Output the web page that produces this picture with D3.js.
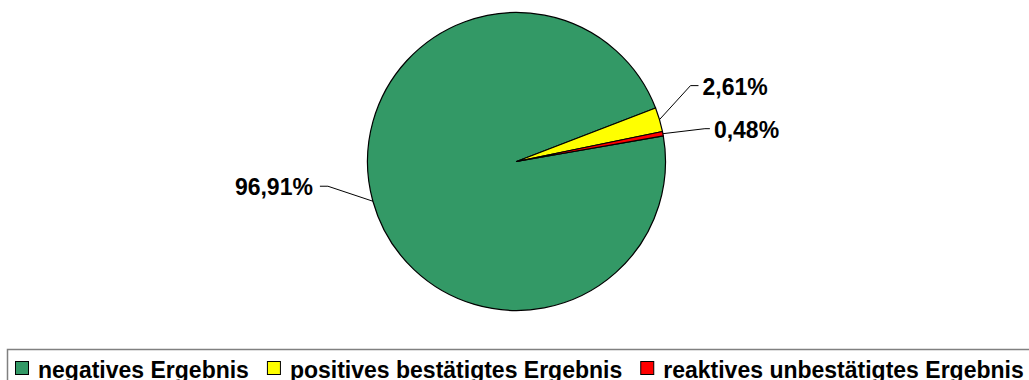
<!DOCTYPE html>
<html>
<head>
<meta charset="utf-8">
<script src="https://cdn.jsdelivr.net/npm/d3@7/dist/d3.min.js"></script>
<style>
  html, body { margin: 0; padding: 0; background: #fff; }
  svg { display: block; }
  text { font-family: "Liberation Sans", Arial, sans-serif; font-weight: bold; fill: #000; }
</style>
</head>
<body>
<svg id="chart" width="1029" height="380"></svg>
<script>
// Test results, share of all samples (percent)
const categories = ["negatives Ergebnis", "positives bestätigtes Ergebnis", "reaktives unbestätigtes Ergebnis"];
const values = [96.91, 2.61, 0.48];
const valueLabels = ["96,91%", "2,61%", "0,48%"];
const colors = ["#339966", "#FFFF00", "#FF0000"];

const width = 1029, height = 380;
const cx = 516.5, cy = 161.5, radius = 149;
const firstSliceAngle = 80.1; // degrees, clockwise from 12 o'clock

// Leader-line layout per slice: elbow offset from the rim point, then a short horizontal run
const leaderLayout = [
  { ex: -45, ey: -15, run: -8 },
  { ex: 31, ey: -34, run: 8 },
  { ex: 42, ey: -5, run: 5 }
];

const svg = d3.select("#chart");

const start = firstSliceAngle * Math.PI / 180;
const pie = d3.pie().sort(null).value(d => d).startAngle(start).endAngle(start + 2 * Math.PI);
const arcs = pie(values);
const arc = d3.arc().innerRadius(0).outerRadius(radius);

const g = svg.append("g").attr("transform", `translate(${cx},${cy})`);

g.selectAll("path.slice")
  .data(arcs)
  .join("path")
  .attr("class", "slice")
  .attr("d", arc)
  .attr("fill", (d, i) => colors[i])
  .attr("stroke", "#000")
  .attr("stroke-width", 1.2)
  .attr("stroke-linejoin", "round");

// Value labels with leader lines
arcs.forEach((d, i) => {
  const mid = (d.startAngle + d.endAngle) / 2;
  const rx = Math.sin(mid) * radius;
  const ry = -Math.cos(mid) * radius;
  const L = leaderLayout[i];
  const ex = rx + L.ex, ey = ry + L.ey;
  const hx = ex + L.run;
  g.append("path")
    .attr("d", d3.line()([[rx, ry], [ex, ey], [hx, ey]]))
    .attr("fill", "none")
    .attr("stroke", "#000")
    .attr("stroke-width", 1);
  const right = L.run < 0;
  g.append("text")
    .attr("x", hx + (right ? -7 : 4))
    .attr("y", ey + 9)
    .attr("text-anchor", right ? "end" : "start")
    .attr("font-size", 23)
    .text(valueLabels[i]);
});

// Legend (frame runs past the lower and right edges)
svg.append("rect")
  .attr("x", 7.5).attr("y", 349.5)
  .attr("width", 1100).attr("height", 100)
  .attr("fill", "#fff")
  .attr("stroke", "#808080")
  .attr("stroke-width", 1.5);

const legend = svg.append("g");
let lx = 15;
categories.forEach((c, i) => {
  legend.append("rect")
    .attr("x", lx + 0.5).attr("y", 361.5)
    .attr("width", 13).attr("height", 13)
    .attr("fill", colors[i])
    .attr("stroke", "#000")
    .attr("stroke-width", 1);
  const t = legend.append("text")
    .attr("x", lx + 23)
    .attr("y", 377.5)
    .attr("font-size", 23)
    .text(c);
  lx += 23 + t.node().getComputedTextLength() + 18;
});
</script>
</body>
</html>
